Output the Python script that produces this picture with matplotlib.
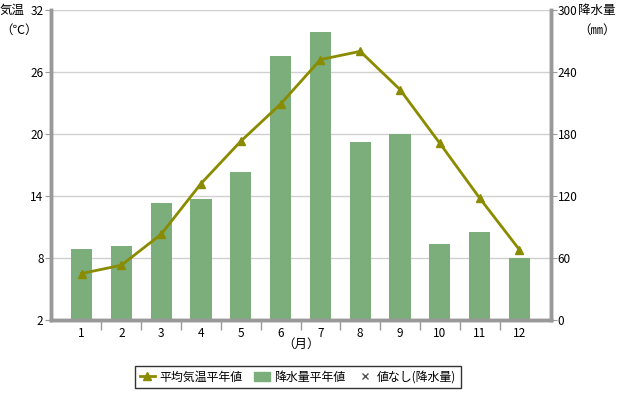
import matplotlib
matplotlib.use("Agg")
import matplotlib.pyplot as plt
from matplotlib.lines import Line2D
from matplotlib.patches import Patch
import numpy as np

plt.rcParams['font.family'] = ['Noto Sans CJK JP', 'DejaVu Sans']

months = ['1', '2', '3', '4', '5', '6', '7', '8', '9', '10', '11', '12']
temp = [6.5, 7.3, 10.3, 15.2, 19.3, 22.9, 27.2, 28.0, 24.3, 19.1, 13.8, 8.8]
precip = [69, 72, 113, 117, 143, 255, 279, 172, 180, 74, 85, 60]
temp_ticks = [2, 8, 14, 20, 26, 32]
precip_ticks = [0, 60, 120, 180, 240, 300]

line_color = '#8B8B00'
bar_color = '#7BAE7B'
axis_gray = '#999999'

fig = plt.figure(figsize=(6.2, 4.0), dpi=100)
ax = fig.add_axes([50.5/620, 80/400, 500/620, 310/400])
ax2 = ax.twinx()

x = np.arange(len(months))
ax2.bar(x, precip, width=0.53, color=bar_color, zorder=2)
ax2.set_ylim(0, 300)
ax2.set_yticks(precip_ticks)

ax.set_zorder(ax2.get_zorder() + 1)
ax.patch.set_visible(False)
ax.plot(x, temp, color=line_color, lw=2, marker='^', ms=6, zorder=3)
ax.set_ylim(2, 32)
ax.set_yticks(temp_ticks)
ax.set_xlim(-0.78, 11.78)
ax.set_xticks(x)
ax.set_xticklabels(months)
ax.set_xticks(np.arange(0.5, 11, 1), minor=True)
ax.tick_params(axis='x', which='major', length=0, pad=5, labelsize=8.5)
ax.tick_params(axis='x', which='minor', length=7, width=1, color=axis_gray)
ax.tick_params(axis='y', length=4, color=axis_gray, labelsize=8.5, pad=1)
ax2.tick_params(axis='y', length=4, color=axis_gray, labelsize=8.5, pad=1)

for yv in temp_ticks:
    ax2.axhline((yv - 2) * 10, color='#d0d0d0', lw=1, zorder=0)

for a in (ax, ax2):
    a.spines['top'].set_visible(False)
    for s in ('left', 'right', 'bottom'):
        a.spines[s].set_color(axis_gray)
        a.spines[s].set_linewidth(2.5)

fig.text(0, 390/400, '気温', fontsize=9, va='center', ha='left')
fig.text(0, 370/400, '（℃）', fontsize=9, va='center', ha='left')
fig.text(578/620, 390/400, '降水量', fontsize=9, va='center', ha='left')
fig.text(578/620, 370/400, '（㎜）', fontsize=9, va='center', ha='left')
fig.text(301/620, 56/400, '（月）', fontsize=9, va='center', ha='center')

handles = [
    Line2D([0], [0], color=line_color, lw=2, marker='^', ms=6),
    Patch(color=bar_color),
    Line2D([0], [0], color='#555555', lw=0, marker='x', ms=4),
]
labels = ['平均気温平年値', '降水量平年値', '値なし(降水量)']
leg = fig.legend(handles, labels, loc='center', bbox_to_anchor=(298/620, 23/400),
                 ncol=3, frameon=True, fontsize=8.6, fancybox=False,
                 handlelength=1.3, handletextpad=0.35, columnspacing=1.0,
                 borderpad=0.4)
leg.get_frame().set_edgecolor('black')
leg.get_frame().set_linewidth(1)

fig.savefig('out.png', dpi=100)
